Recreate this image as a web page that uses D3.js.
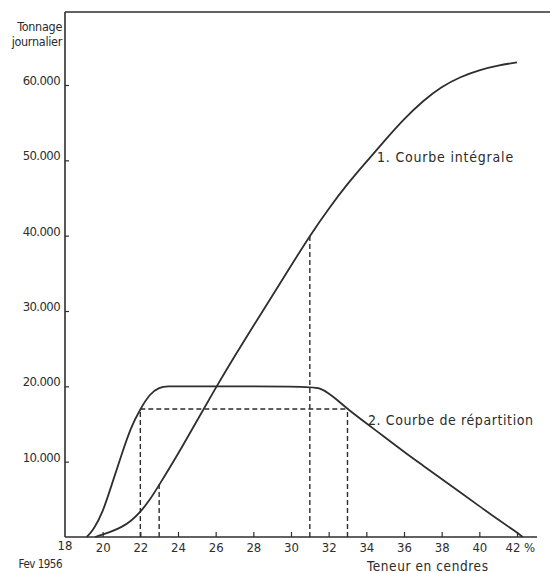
<!DOCTYPE html>
<html>
<head>
<meta charset="utf-8">
<script src="https://cdn.jsdelivr.net/npm/d3@7"></script>
<style>
body { margin: 0; background: #fff; }
text { font-family: "DejaVu Sans Condensed", "Liberation Sans Narrow", sans-serif; fill: #2b2b2b; }
</style>
</head>
<body>
<svg width="550" height="573"></svg>
<script>
// 1. Courbe intégrale
const integraleX = [19.6, 20, 20.5, 21, 21.5, 22, 22.5, 23, 24, 25, 26, 27, 28, 29, 30, 31, 32, 33, 34, 35, 36, 37, 38, 39, 40, 41, 42];
const integraleY = [0, 350, 750, 1300, 2100, 3300, 4900, 6900, 11000, 15400, 19800, 24000, 28000, 32000, 36000, 40000, 43600, 46900, 49800, 52700, 55500, 57900, 59800, 61100, 62000, 62600, 63000];
// 2. Courbe de répartition
const repartX = [19.15, 19.5, 20, 20.5, 21, 21.5, 22, 22.5, 23, 23.5, 24, 31, 31.5, 32, 32.5, 33, 34, 35, 36, 37, 38, 39, 40, 41, 42, 42.3];
const repartY = [0, 900, 3200, 7100, 10900, 14600, 17000, 19000, 19900, 20000, 20000, 20000, 19800, 19100, 18100, 17000, 15100, 13200, 11300, 9500, 7700, 5900, 4100, 2300, 600, 0];
// pointillés
const guideX = [22, 23, 31, 33];
const guideY = [17000, 7000, 40000, 17000];
const guideLevel = 17000;
const xTicks = [18, 20, 22, 24, 26, 28, 30, 32, 34, 36, 38, 40, 42];
const yTicks = [10000, 20000, 30000, 40000, 50000, 60000];

const svg = d3.select('svg');
const ink = '#2e2e2e';

const x = d3.scaleLinear().domain([18, 42]).range([65, 517]);
const y = d3.scaleLinear().domain([0, 60000]).range([537, 85]);
const fmt = d3.formatLocale({decimal: ",", thousands: ".", grouping: [3], currency: ["", ""]}).format(",");

// cadre
svg.append('line').attr('x1', x(18)).attr('x2', 550).attr('y1', 12).attr('y2', 12)
    .style('stroke', ink).style('stroke-width', 1.6);
svg.append('line').attr('x1', x(18)).attr('x2', x(18)).attr('y1', 12).attr('y2', y(0))
    .style('stroke', ink).style('stroke-width', 1.6);
svg.append('line').attr('x1', x(18)).attr('x2', 537).attr('y1', y(0)).attr('y2', y(0))
    .style('stroke', ink).style('stroke-width', 1.6);

// axes
let xAxis = d3.axisBottom(x).tickValues(xTicks).tickSize(-5).tickPadding(6)
    .tickFormat(d => d === 18 ? '' : d);
let gx = svg.append('g').attr('transform', 'translate(0,' + y(0) + ')').call(xAxis);
gx.select('.domain').remove();
gx.selectAll('.tick line').style('stroke', ink).style('stroke-width', 1.2);
gx.selectAll('.tick text').style('font-size', '13px').style('fill', ink);
gx.selectAll('.tick').filter(d => d === 18).select('line').remove();
gx.selectAll('.tick').filter(d => d === 42).select('text').text('42 %').attr('text-anchor', 'start').attr('x', -12);

let yAxis = d3.axisLeft(y).tickValues(yTicks).tickSize(-4).tickPadding(5).tickFormat(fmt);
let gy = svg.append('g').attr('transform', 'translate(' + x(18) + ',0)').call(yAxis);
gy.select('.domain').remove();
gy.selectAll('.tick line').style('stroke', ink).style('stroke-width', 1.2);
gy.selectAll('.tick text').style('font-size', '13px').style('fill', ink).attr('dy', '-0.05em').style('letter-spacing', '-0.6px');

svg.append('text').attr('x', x(18)).attr('y', 550).attr('text-anchor', 'middle').style('font-size', '13px').text('18');
svg.append('text').attr('x', 62).attr('y', 568).attr('text-anchor', 'end').style('font-size', '11.5px').style('letter-spacing', '-0.5px').text('Fev 1956');
svg.append('text').attr('x', 367).attr('y', 571).style('font-size', '13.5px').style('letter-spacing', '0.6px').text('Teneur en cendres');
svg.append('text').attr('x', 62).attr('y', 31).attr('text-anchor', 'end').style('font-size', '12.5px').style('letter-spacing', '-0.3px').text('Tonnage');
svg.append('text').attr('x', 62).attr('y', 46).attr('text-anchor', 'end').style('font-size', '12.5px').style('letter-spacing', '-0.3px').text('journalier');

// pointillés
let dash = svg.append('g').style('stroke', ink).style('stroke-width', 1.4).style('stroke-dasharray', '5,3');
dash.selectAll('.v').data(guideX).enter().append('line')
    .attr('x1', d => x(d)).attr('x2', d => x(d))
    .attr('y1', y(0)).attr('y2', (d, i) => y(guideY[i]));
dash.append('line').attr('x1', x(22)).attr('x2', x(33)).attr('y1', y(guideLevel)).attr('y2', y(guideLevel));

// courbes
const line = d3.line().x(d => x(d[0])).y(d => y(d[1])).curve(d3.curveBasis);
svg.append('path').datum(d3.zip(integraleX, integraleY)).attr('d', line)
    .style('fill', 'none').style('stroke', ink).style('stroke-width', 1.8);
svg.append('path').datum(d3.zip(repartX, repartY)).attr('d', line)
    .style('fill', 'none').style('stroke', ink).style('stroke-width', 1.8);

svg.append('text').attr('x', 377).attr('y', 162).style('font-size', '14px').style('letter-spacing', '0.8px').text('1. Courbe intégrale');
svg.append('text').attr('x', 368).attr('y', 425).style('font-size', '14px').style('letter-spacing', '0.6px').text('2. Courbe de répartition');
</script>
</body>
</html>
